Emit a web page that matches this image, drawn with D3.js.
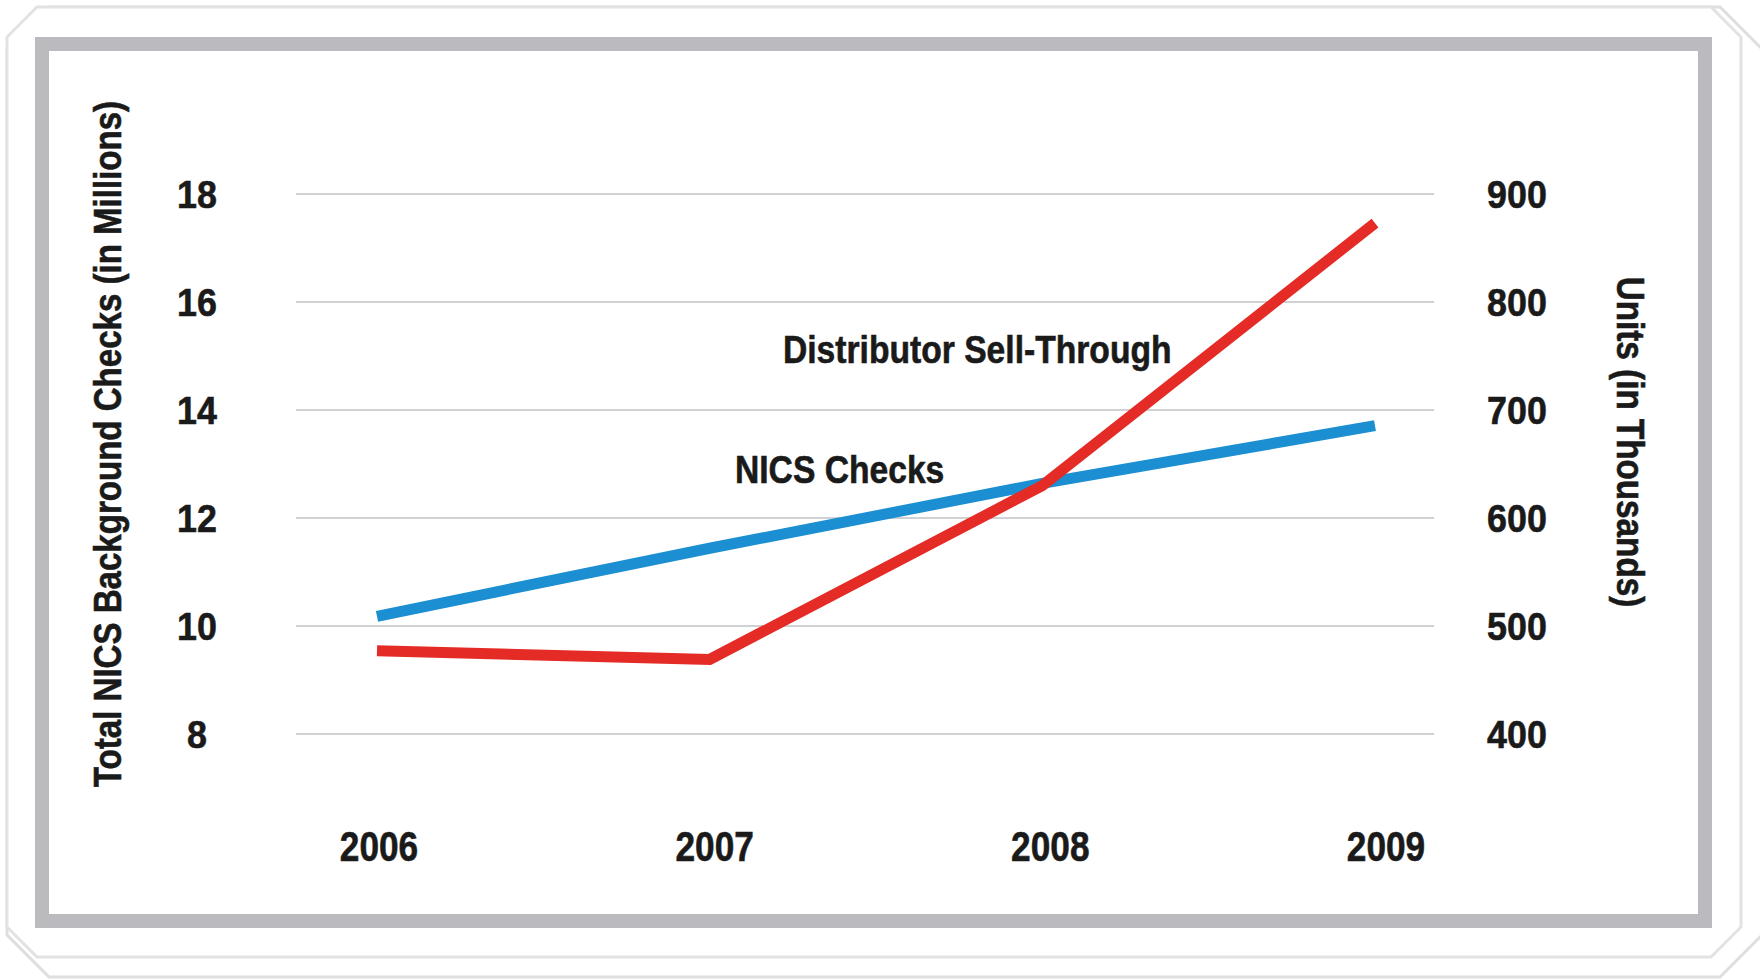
<!DOCTYPE html>
<html>
<head>
<meta charset="utf-8">
<script src="https://cdn.jsdelivr.net/npm/d3@7"></script>
<style>
  html, body { margin: 0; padding: 0; background: #ffffff; }
  svg { display: block; }
  .lbl { font-family: "Liberation Sans", Arial, sans-serif; font-weight: bold; fill: #1a1a1a; stroke: #1a1a1a; stroke-width: 0.6px; }
</style>
</head>
<body>
<svg id="chart" width="1760" height="980"></svg>
<script>
// Years on the horizontal axis
const years = ["2006", "2007", "2008", "2009"];
// Total NICS background checks, millions (left axis)
const nicsChecks = [10.18, 11.44, 12.64, 13.71];
// Distributor sell-through, thousands of units (right axis)
const sellThrough = [477, 469, 630, 873];
// Tick values for both vertical axes
const leftTicks = [8, 10, 12, 14, 16, 18];
const rightTicks = [400, 500, 600, 700, 800, 900];

const svg = d3.select("#chart");

// condensed bold label: anchored group + horizontally squeezed text
function label(parent, x, y, rot, size, squeeze, anchor, txt, dy) {
  const g = parent.append("g")
    .attr("transform", `translate(${x},${y}) rotate(${rot})`);
  g.append("text")
    .attr("class", "lbl")
    .attr("transform", `scale(${squeeze},1)`)
    .attr("text-anchor", anchor)
    .attr("dy", dy || 0)
    .style("font-size", size + "px")
    .text(txt);
  return g;
}

// ---- decorative card outlines ----
function chamferRect(x0, y0, x1, y1, c) {
  return [[x0 + c, y0], [x1 - c, y0], [x1, y0 + c], [x1, y1 - c],
          [x1 - c, y1], [x0 + c, y1], [x0, y1 - c], [x0, y0 + c]];
}
const outline = d3.line().curve(d3.curveLinearClosed);
svg.append("path")
  .attr("d", outline(chamferRect(7, 7, 1762, 977, 42)))
  .attr("fill", "#ffffff").attr("stroke", "#dedede").attr("stroke-width", 3);
svg.append("path")
  .attr("d", outline(chamferRect(7, 7, 1741, 957, 30)))
  .attr("fill", "#ffffff").attr("stroke", "#e2e2e2").attr("stroke-width", 3);

// gray frame around the plot panel
svg.append("rect")
  .attr("x", 42).attr("y", 44).attr("width", 1663).attr("height", 877)
  .attr("fill", "#ffffff").attr("stroke", "#bbbbbf").attr("stroke-width", 14);

// ---- scales ----
const x = d3.scalePoint().domain(years).range([377, 1375]);
const yL = d3.scaleLinear().domain([8, 18]).range([734, 194]);
const yR = d3.scaleLinear().domain([400, 900]).range([734, 194]);

// gridlines
svg.append("g").selectAll("line").data(leftTicks).join("line")
  .attr("x1", 296).attr("x2", 1434)
  .attr("y1", d => yL(d)).attr("y2", d => yL(d))
  .attr("stroke", "#d0d1d5").attr("stroke-width", 2);

// tick labels
const tickG = svg.append("g");
leftTicks.forEach(v => label(tickG, 197, yL(v), 0, 39, 0.92, "middle", v, "0.36em"));
rightTicks.forEach(v => label(tickG, 1487, yR(v), 0, 39, 0.92, "start", v, "0.36em"));
years.forEach((v, i) => label(tickG, x(v) + 2 + i * 3, 861, 0, 42, 0.84, "middle", v));

// axis titles
label(svg, 121, 444, -90, 38, 0.87, "middle", "Total NICS Background Checks (in Millions)");
label(svg, 1617, 442, 90, 38, 0.875, "middle", "Units (in Thousands)");

// ---- series lines ----
const lineL = d3.line().x((d, i) => x(years[i])).y(d => yL(d));
const lineR = d3.line().x((d, i) => x(years[i])).y(d => yR(d));

svg.append("path")
  .attr("d", lineL(nicsChecks))
  .attr("fill", "none").attr("stroke", "#1b8fd2")
  .attr("stroke-width", 11).attr("stroke-linejoin", "miter");

svg.append("path")
  .attr("d", lineR(sellThrough))
  .attr("fill", "none").attr("stroke", "#e52b26")
  .attr("stroke-width", 11).attr("stroke-linejoin", "miter");

// series labels
label(svg, 783, 363, 0, 38, 0.885, "start", "Distributor Sell-Through");
label(svg, 735, 483, 0, 38, 0.885, "start", "NICS Checks");
</script>
</body>
</html>
